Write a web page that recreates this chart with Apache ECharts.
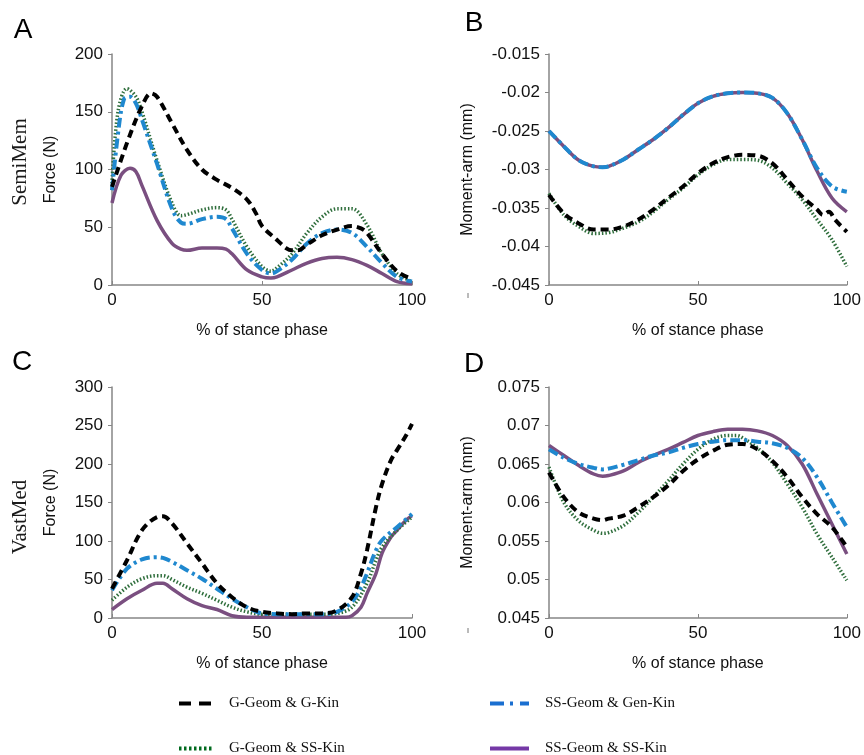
<!DOCTYPE html>
<html>
<head>
<meta charset="utf-8">
<script src="https://cdn.jsdelivr.net/npm/echarts@6/dist/echarts.min.js"></script>
<style>
  html, body { margin: 0; padding: 0; background: #fff; }
  #chart { width: 864px; height: 755px; }
</style>
</head>
<body>
<div id="chart"></div>
<script>
// series names (legend)
const GG = 'G-Geom & G-Kin';
const SGK = 'SS-Geom & Gen-Kin';
const GS = 'G-Geom & SS-Kin';
const SS = 'SS-Geom & SS-Kin';

const X_TICKS = [0, 50, 100];

// panel A - SemiMem force (N), [% stance, value]
const A_GG = [[0,85],[5,123],[10,155],[13,166],[15,163],[20,140],[25,117],[30,100],[35,91],[40,84],[45,74],[48,62],[50,51],[55,39],[58,32],[60,30],[62,30],[65,35],[70,43],[75,48],[80,51],[83,49],[85,45],[90,27],[95,12],[100,5]];
const A_GS = [[0,88],[2,150],[5,170],[8,163],[10,150],[15,108],[20,71],[23,60],[25,61],[30,65],[35,67],[38,65],[40,57],[45,33],[50,16],[53,12],[55,15],[60,27],[65,45],[70,59],[75,66],[80,66],[85,52],[90,27],[95,10],[100,3]];
const A_SGK = [[0,82],[2,131],[4,161],[6,163],[8,157],[10,143],[15,105],[20,66],[23,54],[25,53],[30,57],[35,59],[38,57],[40,49],[45,27],[50,13],[53,10],[55,12],[60,22],[65,36],[70,45],[75,48],[80,45],[85,33],[90,19],[95,7],[100,3]];
const A_SS = [[0,71],[3,95],[6,101],[8,98],[10,86],[15,56],[20,36],[23,31],[25,30],[30,32],[35,32],[38,31],[40,27],[45,13],[50,7],[53,6],[55,7],[60,13],[65,19],[70,23],[75,24],[80,22],[85,17],[90,10],[95,3],[100,1]];

// panel B - SemiMem moment arm (mm)
const B_GG = [[0,-0.0333],[5,-0.0357],[10,-0.037],[15,-0.0378],[20,-0.0378],[25,-0.0374],[30,-0.0365],[35,-0.0352],[40,-0.0337],[45,-0.0322],[50,-0.0305],[55,-0.0292],[60,-0.0284],[65,-0.0281],[70,-0.0282],[75,-0.0292],[80,-0.0313],[85,-0.0335],[90,-0.0352],[92,-0.0359],[94,-0.0355],[96,-0.0365],[100,-0.0381]];
const B_GS = [[0,-0.0331],[5,-0.0359],[10,-0.0374],[15,-0.0383],[20,-0.0382],[25,-0.0376],[30,-0.0368],[35,-0.0355],[40,-0.0339],[45,-0.0324],[50,-0.0307],[55,-0.0294],[60,-0.0287],[65,-0.0287],[70,-0.0288],[75,-0.0298],[80,-0.0318],[85,-0.0339],[90,-0.0365],[95,-0.0391],[100,-0.0426]];
const B_SGK = [[0,-0.025],[5,-0.027],[10,-0.0288],[15,-0.0296],[18,-0.0297],[20,-0.0296],[25,-0.0287],[30,-0.0274],[35,-0.0261],[40,-0.0246],[45,-0.0229],[50,-0.0214],[55,-0.0205],[60,-0.0201],[65,-0.02],[70,-0.0201],[75,-0.0207],[80,-0.0227],[85,-0.0261],[90,-0.0298],[95,-0.0322],[100,-0.0329]];
const B_SS = [[0,-0.025],[5,-0.027],[10,-0.0288],[15,-0.0296],[18,-0.0297],[20,-0.0296],[25,-0.0287],[30,-0.0274],[35,-0.0261],[40,-0.0246],[45,-0.0229],[50,-0.0214],[55,-0.0205],[60,-0.0201],[65,-0.02],[70,-0.0201],[75,-0.0207],[80,-0.0227],[85,-0.0261],[90,-0.0302],[95,-0.0337],[100,-0.0355]];

// panel C - VastMed force (N)
const C_GG = [[0,38],[5,75],[10,114],[15,131],[17,132],[20,123],[25,97],[30,71],[35,45],[40,27],[45,14],[50,8],[55,6],[60,5],[65,6],[70,6],[75,10],[80,27],[83,58],[85,88],[88,144],[90,174],[93,205],[95,218],[98,237],[100,252]];
const C_GS = [[0,23],[5,40],[10,51],[15,55],[17,55],[20,50],[25,40],[30,32],[35,23],[40,14],[45,8],[50,5],[55,5],[60,5],[65,5],[70,5],[75,6],[80,14],[85,45],[88,75],[90,92],[95,114],[100,131]];
const C_SGK = [[0,36],[5,64],[10,76],[15,79],[17,78],[20,73],[25,62],[30,51],[35,38],[40,25],[45,14],[50,6],[55,5],[60,5],[65,5],[70,5],[75,8],[80,21],[83,40],[85,58],[88,88],[90,101],[95,118],[100,135]];
const C_SS = [[0,11],[5,25],[10,36],[15,45],[17,45],[20,38],[25,25],[30,16],[35,11],[40,3],[45,1],[50,1],[55,1],[60,1],[65,1],[70,1],[75,1],[78,1],[80,3],[83,14],[85,32],[88,58],[90,84],[93,105],[95,114],[98,127],[100,133]];

// panel D - VastMed moment arm (mm)
const D_GG = [[0,0.0639],[5,0.0607],[10,0.0587],[15,0.0579],[18,0.0577],[20,0.0579],[25,0.0583],[30,0.0594],[35,0.0607],[40,0.0622],[45,0.0641],[50,0.0656],[55,0.0667],[60,0.0675],[65,0.0676],[70,0.0669],[75,0.0654],[80,0.0633],[85,0.0607],[90,0.0585],[95,0.0568],[100,0.0542]];
const D_GS = [[0,0.0646],[5,0.06],[10,0.0576],[15,0.0564],[18,0.056],[20,0.0561],[25,0.057],[30,0.0587],[35,0.0607],[40,0.0628],[45,0.065],[50,0.0669],[55,0.0682],[60,0.0687],[63,0.0687],[65,0.0684],[70,0.0671],[75,0.0652],[80,0.0624],[85,0.0594],[90,0.0559],[95,0.0529],[100,0.0499]];
const D_SGK = [[0,0.0669],[5,0.0658],[10,0.065],[15,0.0645],[18,0.0643],[20,0.0644],[25,0.0649],[30,0.0655],[35,0.0661],[40,0.0665],[45,0.0671],[50,0.0676],[55,0.0679],[60,0.0681],[65,0.0681],[70,0.0679],[75,0.0677],[80,0.0671],[85,0.0658],[90,0.0633],[95,0.06],[100,0.0568]];
const D_SS = [[0,0.0674],[5,0.0661],[10,0.0648],[15,0.0637],[18,0.0634],[20,0.0635],[25,0.0641],[30,0.0652],[35,0.0661],[40,0.0669],[45,0.0678],[50,0.0687],[55,0.0692],[60,0.0695],[65,0.0695],[70,0.0693],[75,0.0687],[80,0.0674],[85,0.065],[90,0.0611],[95,0.0572],[100,0.0533]];

// y ranges per panel
const Y_RANGES = [
    { min: 0, max: 200, interval: 50 },
    { min: -0.045, max: -0.015, interval: 0.005 },
    { min: 0, max: 300, interval: 50 },
    { min: 0.045, max: 0.075, interval: 0.005 }
];

const STYLES = {
    [GG]: { color: '#000000', width: 4, type: [8, 5], legend: '#000000', legendType: [12, 8] },
    [GS]: { color: '#2f6e3c', width: 3.5, type: [1.5, 2], legend: '#006a1e', legendType: [2.5, 2.5] },
    [SGK]: { color: '#1f88cf', width: 4, type: [10, 4, 3, 4], legend: '#1a6fd0', legendType: [14, 6, 3, 7] },
    [SS]: { color: '#7a4f80', width: 3.5, type: 'solid', legend: '#7538a6', legendType: 'solid' }
};

const PANELS = [
    { series: { [SS]: A_SS, [GS]: A_GS, [SGK]: A_SGK, [GG]: A_GG }, left: 112, top: 54, yName: 'Force (N)', gap: 53 },
    { series: { [SS]: B_SS, [GS]: B_GS, [SGK]: B_SGK, [GG]: B_GG }, left: 549, top: 54, yName: 'Moment-arm (mm)', gap: 73 },
    { series: { [SS]: C_SS, [GS]: C_GS, [SGK]: C_SGK, [GG]: C_GG }, left: 112, top: 387, yName: 'Force (N)', gap: 53 },
    { series: { [SS]: D_SS, [GS]: D_GS, [SGK]: D_SGK, [GG]: D_GG }, left: 549, top: 387, yName: 'Moment-arm (mm)', gap: 73 }
];

const SANS = 'Liberation Sans, Arial, sans-serif';
const SERIF = 'Liberation Serif, Times New Roman, serif';
const AXIS_GRAY = '#868686';

const grids = [], xAxes = [], yAxes = [], series = [];
PANELS.forEach((p, i) => {
    grids.push({ left: p.left, top: p.top, width: 300, height: 231 });
    xAxes.push({
        type: 'value', gridIndex: i, min: X_TICKS[0], max: X_TICKS[X_TICKS.length - 1], interval: 50,
        name: '% of stance phase', nameLocation: 'middle', nameGap: 38,
        nameTextStyle: { fontFamily: SANS, fontSize: 16, color: '#111' },
        axisLine: { lineStyle: { color: AXIS_GRAY, width: 1.5 } },
        axisTick: { inside: true, length: 4, lineStyle: { color: AXIS_GRAY } },
        axisLabel: { fontFamily: SANS, fontSize: 17, color: '#111', margin: 7 },
        splitLine: { show: false }
    });
    const r = Y_RANGES[i];
    yAxes.push({
        type: 'value', gridIndex: i, min: r.min, max: r.max, interval: r.interval,
        name: p.yName, nameLocation: 'middle', nameGap: p.gap,
        nameTextStyle: { fontFamily: SANS, fontSize: 16, color: '#111' },
        axisLine: { show: true, lineStyle: { color: AXIS_GRAY, width: 1.5 } },
        axisTick: { show: true, length: 4, lineStyle: { color: AXIS_GRAY } },
        axisLabel: { fontFamily: SANS, fontSize: 17, color: '#111', margin: 9,
            formatter: v => String(+v.toFixed(3)) },
        splitLine: { show: false }
    });
    Object.entries(p.series).forEach(([name, data]) => {
        const s = STYLES[name];
        series.push({
            name, type: 'line', xAxisIndex: i, yAxisIndex: i, data,
            smooth: 0.35, symbol: 'none', silent: true,
            lineStyle: { color: s.color, width: s.width, type: s.type, cap: 'butt' },
            itemStyle: { color: s.color }
        });
    });
});

// legend: two columns, two rows
const legendBase = {
    orient: 'vertical', top: 696, height: 90, padding: 0, itemHeight: 14, itemGap: 30, selectedMode: false,
    itemStyle: { opacity: 0 },
    textStyle: { fontFamily: SERIF, fontSize: 15, lineHeight: 14, color: '#111', padding: [0, 0, 0, 11] }
};
const legendItem = name => ({
    name, itemStyle: { opacity: 0 },
    lineStyle: { color: STYLES[name].legend, width: 4, type: STYLES[name].legendType }
});

const panelText = (text, x, y) => ({
    type: 'text', x, y,
    style: { text, fontFamily: SANS, fontSize: 28, fill: '#000', align: 'center', verticalAlign: 'middle' }
});
const muscleText = (text, x, y) => ({
    type: 'text', x, y, rotation: Math.PI / 2,
    style: { text, fontFamily: SERIF, fontSize: 21, fill: '#1a1a1a', align: 'center', verticalAlign: 'middle' }
});

const chart = echarts.init(document.getElementById('chart'), null, { renderer: 'canvas' });
chart.setOption({
    backgroundColor: '#ffffff',
    animation: false,
    grid: grids,
    xAxis: xAxes,
    yAxis: yAxes,
    series,
    legend: [
        Object.assign({}, legendBase, { left: 177, itemWidth: 34, data: [legendItem(GG), legendItem(GS)] }),
        Object.assign({}, legendBase, { left: 488, itemWidth: 39, data: [legendItem(SGK), legendItem(SS)] })
    ],
    graphic: [
        panelText('A', 23, 30),
        panelText('B', 474, 23),
        panelText('C', 22, 362),
        panelText('D', 474, 364),
        muscleText('SemiMem', 20, 162),
        muscleText('VastMed', 20, 517),
        { type: 'line', shape: { x1: 468, y1: 293, x2: 468, y2: 298 }, style: { stroke: '#777', lineWidth: 1 } },
        { type: 'line', shape: { x1: 468, y1: 628, x2: 468, y2: 633 }, style: { stroke: '#777', lineWidth: 1 } }
    ]
});
</script>
</body>
</html>
